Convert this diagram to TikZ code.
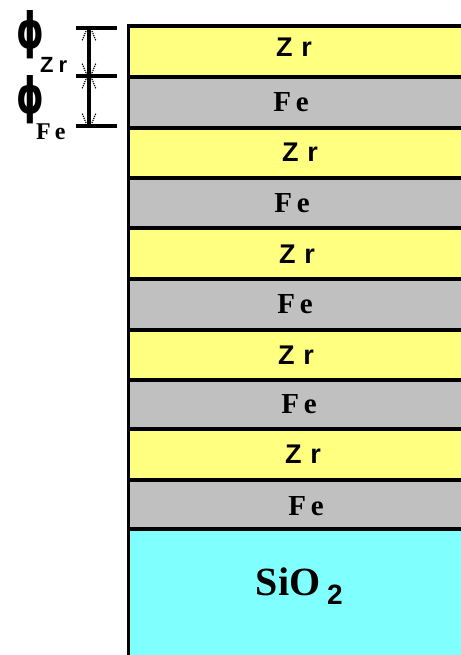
\documentclass[tikz,border=0pt]{standalone}
\usepackage{fontspec}
\setmainfont{Liberation Serif}
\newfontfamily\zrfont{Liberation Sans}
\newfontfamily\phifont{DejaVu Sans}
\definecolor{zryellow}{HTML}{FFFF80}
\definecolor{fegray}{HTML}{C0C0C0}
\definecolor{sicyan}{HTML}{80FFFF}
\newcommand{\zrtext}{Z\hspace{9pt}r}
\tikzset{
  zrlayer/.style={fill=zryellow},
  felayer/.style={fill=fegray},
  sublayer/.style={fill=sicyan},
  border/.style={line width=3.5pt, black},
  zrlabel/.style={anchor=base, inner sep=0pt, font=\zrfont\bfseries\fontsize{27}{27}\selectfont},
  felabel/.style={anchor=base, inner sep=0pt, font=\bfseries\fontsize{29}{29}\selectfont},
  dimline/.style={line width=3.5pt, black},
  barb/.style={line width=1.2pt, densely dotted, black},
  phistyle/.style={anchor=center, inner sep=0pt, font=\phifont\bfseries\fontsize{50}{50}\selectfont, xscale=0.7, transform shape},
  subzr/.style={anchor=base west, inner sep=0pt, font=\zrfont\bfseries\fontsize{22}{22}\selectfont},
  subfe/.style={anchor=base west, inner sep=0pt, font=\bfseries\fontsize{24}{24}\selectfont}
}
\begin{document}
\begin{tikzpicture}[x=1pt,y=-1pt]
\useasboundingbox (0,0) rectangle (460,655);
% layers
\fill[zrlayer] (128,26) rectangle (470,77);
\fill[felayer] (128,77) rectangle (470,128);
\fill[zrlayer] (128,128) rectangle (470,178);
\fill[felayer] (128,178) rectangle (470,228);
\fill[zrlayer] (128,228) rectangle (470,279);
\fill[felayer] (128,279) rectangle (470,330);
\fill[zrlayer] (128,330) rectangle (470,380);
\fill[felayer] (128,380) rectangle (470,429);
\fill[zrlayer] (128,429) rectangle (470,480);
\fill[felayer] (128,480) rectangle (470,529);
\fill[sublayer] (128,529) rectangle (470,660);
% borders
\foreach \yy/\w in {26/3.5,77/3.5,128/3.5,178/3.5,228/3.5,279/3.5,330/4.5,380/3.5,429/3.5,480/4.5,529/3.5}
  \draw[line width=\w pt] (127,\yy) -- (470,\yy);
\draw[border] (128.5,24.5) -- (128.5,660);
% labels
\node[zrlabel] (zr1) at (294,57) {\zrtext};
\node[felabel] (fe1) at (291,112) {F\,e};
\node[zrlabel] (zr2) at (300,162) {\zrtext};
\node[felabel] (fe2) at (292,212) {F\,e};
\node[zrlabel] (zr3) at (297,263) {\zrtext};
\node[felabel] (fe3) at (295,313) {F\,e};
\node[zrlabel] (zr4) at (296,364) {\zrtext};
\node[felabel] (fe4) at (299,413) {F\,e};
\node[zrlabel] (zr5) at (303,463) {\zrtext};
\node[felabel] (fe5) at (306,515) {F\,e};
\node[anchor=base, inner sep=0pt, font=\bfseries\fontsize{40}{40}\selectfont] (sio) at (288,595) {SiO};
\node[anchor=base west, inner sep=0pt, font=\zrfont\bfseries\fontsize{28}{28}\selectfont] (two) at (327,604) {2};
% dimension
\coordinate (t1) at (89,28);
\coordinate (t2) at (89,76);
\coordinate (t3) at (89,126);
\draw[dimline] (t1) -- (t3);
\draw[dimline] (76,28) -- (117,28);
\draw[dimline] (76,76) -- (117,76);
\draw[dimline] (76,126) -- (117,126);
\fill (t2) circle (3.5pt);
\foreach \yy/\s in {28/1,76/-1,76/1,126/-1}{
  \draw[barb] (86,\yy+\s*3) -- (82,\yy+\s*13);
  \draw[barb] (92,\yy+\s*3) -- (96,\yy+\s*13);
}
% phi labels
\node[phistyle] (phi1) at (30,35) {ϕ};
\node[subzr] (s1) at (40,73) {\zrfont Z\hspace{5pt}r};
\node[phistyle] (phi2) at (30,100) {ϕ};
\node[subfe] (s2) at (36,140) {F\,e};
\end{tikzpicture}
\end{document}
